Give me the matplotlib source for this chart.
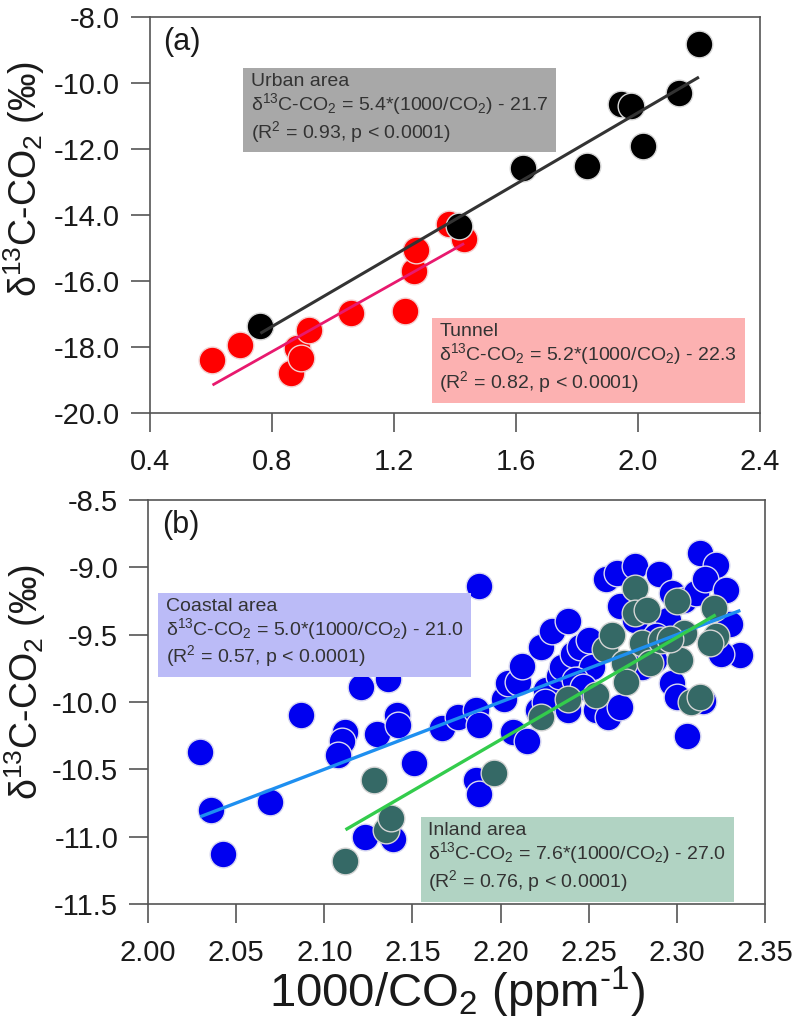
import matplotlib
matplotlib.use('Agg')
import numpy as np
import matplotlib.pyplot as plt
from matplotlib.ticker import FormatStrFormatter

plt.rcParams['font.family'] = ['Liberation Sans', 'DejaVu Sans']
plt.rcParams['mathtext.default'] = 'regular'
plt.rcParams['axes.unicode_minus'] = False

# ---- panel (a): urban area vs tunnel ----
urban_x = [2.20, 2.135, 1.943, 1.977, 2.018, 1.834, 1.622, 1.412, 0.762]
urban_y = [-8.81, -10.30, -10.64, -10.71, -11.92, -12.51, -12.56, -14.32, -17.36]
tunnel_x = [0.605, 0.694, 0.862, 0.883, 0.894, 0.920, 1.058, 1.236, 1.266, 1.273, 1.382, 1.430]
tunnel_y = [-18.40, -17.94, -18.80, -18.04, -18.34, -17.48, -16.98, -16.92, -15.71, -15.07, -14.26, -14.72]

# ---- panel (b): coastal vs inland ----
coastal_x = [2.0296, 2.0358, 2.0424, 2.069, 2.087, 2.112, 2.110, 2.108, 2.121, 2.136,
             2.130, 2.141, 2.142, 2.151, 2.123, 2.139, 2.188, 2.167, 2.176, 2.186,
             2.188, 2.186, 2.188, 2.202, 2.204, 2.210, 2.212, 2.207, 2.215, 2.223,
             2.229, 2.238, 2.226, 2.233, 2.235, 2.221, 2.225, 2.238, 2.241, 2.245,
             2.250, 2.252, 2.254, 2.261, 2.268, 2.242, 2.247, 2.260, 2.266, 2.276,
             2.290, 2.268, 2.276, 2.297, 2.304, 2.313, 2.322, 2.311, 2.316, 2.328,
             2.330, 2.336, 2.325, 2.306, 2.297, 2.300, 2.315, 2.280, 2.287, 2.295,
             2.288]
coastal_y = [-10.37, -10.80, -11.13, -10.74, -10.10, -10.22, -10.29, -10.39, -9.89, -9.83,
             -10.24, -10.10, -10.17, -10.45, -11.00, -11.02, -9.14, -10.19, -10.11, -10.06,
             -10.17, -10.58, -10.68, -9.98, -9.86, -9.85, -9.73, -10.22, -10.29, -9.59,
             -9.47, -9.40, -9.91, -9.81, -9.74, -10.06, -10.00, -10.06, -9.64, -9.59,
             -9.54, -9.74, -10.06, -10.11, -10.04, -9.84, -9.89, -9.09, -9.04, -8.99,
             -9.05, -9.29, -9.39, -9.19, -9.24, -8.89, -8.98, -9.19, -9.09, -9.17,
             -9.42, -9.65, -9.64, -10.25, -9.86, -9.96, -9.99, -9.74, -9.69, -9.39,
             -9.51]
inland_x = [2.112, 2.128, 2.135, 2.138, 2.196, 2.223, 2.238, 2.254, 2.259, 2.263,
            2.270, 2.271, 2.276, 2.276, 2.283, 2.280, 2.285, 2.291, 2.300, 2.302,
            2.304, 2.308, 2.313, 2.321, 2.322, 2.319, 2.296]
inland_y = [-11.18, -10.58, -10.95, -10.86, -10.53, -10.11, -9.98, -9.95, -9.61, -9.50,
            -9.71, -9.85, -9.15, -9.34, -9.32, -9.56, -9.71, -9.54, -9.25, -9.69,
            -9.49, -10.00, -9.96, -9.30, -9.51, -9.56, -9.53]

# regression coefficients (slope, intercept) as printed on the chart
urban_fit = (5.4, -21.7)
tunnel_fit = (5.2, -22.3)
coastal_fit = (5.0, -21.0)
inland_fit = (7.6, -27.0)

urban_text = 'Urban area\nδ$^{13}$C-CO$_2$ = 5.4*(1000/CO$_2$) - 21.7\n(R$^2$ = 0.93, p < 0.0001)'
tunnel_text = 'Tunnel\nδ$^{13}$C-CO$_2$ = 5.2*(1000/CO$_2$) - 22.3\n(R$^2$ = 0.82, p < 0.0001)'
coastal_text = 'Coastal area\nδ$^{13}$C-CO$_2$ = 5.0*(1000/CO$_2$) - 21.0\n(R$^2$ = 0.57, p < 0.0001)'
inland_text = 'Inland area\nδ$^{13}$C-CO$_2$ = 7.6*(1000/CO$_2$) - 27.0\n(R$^2$ = 0.76, p < 0.0001)'

ylabel = 'δ$^{13}$C-CO$_2$ (‰)'
xlabel = '1000/CO$_2$ (ppm$^{‐1}$)'

frame = '#555555'
txt = '#333333'


def style(ax):
    for s in ax.spines.values():
        s.set_color(frame)
        s.set_linewidth(1.2)
    ax.tick_params(direction='out', length=13.5, width=1.2, color=frame,
                   labelsize=21, labelcolor='#1a1a1a')
    ax.tick_params(axis='x', pad=12)
    ax.tick_params(axis='y', pad=8)


def fit_line(ax, xs, fit, color, lw):
    xx = np.array([min(xs), max(xs)])
    ax.plot(xx, fit[0] * xx + fit[1], color=color, lw=lw, zorder=4,
            solid_capstyle='butt')


def note(ax, x, y, s, fc):
    ax.text(x, y, s, fontsize=14, color=txt, ha='left', va='top',
            linespacing=1.08, zorder=5,
            bbox=dict(boxstyle='square,pad=0.4', fc=fc, ec='none'))


fig = plt.figure(figsize=(7.96, 10.21), dpi=100)

# ---- panel (a) ----
ax1 = fig.add_axes([0.1884, 0.5955, 0.7663, 0.3878])
ax1.scatter(tunnel_x, tunnel_y, s=370, color='#ff0000', edgecolors='#f3d0d0',
            linewidths=1.0, zorder=2)
ax1.scatter(urban_x, urban_y, s=370, color='#000000', edgecolors='#d8d8d8',
            linewidths=1.0, zorder=3)
fit_line(ax1, urban_x, urban_fit, '#333333', 2.2)
fit_line(ax1, tunnel_x, tunnel_fit, '#e8196e', 2.0)
ax1.set_xlim(0.4, 2.4)
ax1.set_ylim(-20, -8)
ax1.set_xticks(np.arange(0.4, 2.41, 0.4))
ax1.set_yticks(np.arange(-20, -7.9, 2))
ax1.xaxis.set_major_formatter(FormatStrFormatter('%.1f'))
ax1.yaxis.set_major_formatter(FormatStrFormatter('%.1f'))
style(ax1)
ax1.set_ylabel(ylabel, fontsize=27, color='#1a1a1a')
ax1.yaxis.set_label_coords(-0.168, 0.59)
ax1.text(0.022, 0.975, '(a)', transform=ax1.transAxes, fontsize=22,
         ha='left', va='top', color='#1a1a1a')
note(ax1, 0.731, -9.69, urban_text, '#a8a8a8')
note(ax1, 1.349, -17.27, tunnel_text, '#fcb1b1')

# ---- panel (b) ----
ax2 = fig.add_axes([0.186, 0.1146, 0.7751, 0.3957])
ax2.scatter(coastal_x, coastal_y, s=370, color='#0000f0', edgecolors='#d8d8f0',
            linewidths=1.0, zorder=2)
ax2.scatter(inland_x, inland_y, s=370, color='#356966', edgecolors='#d5d5d5',
            linewidths=1.0, zorder=3)
fit_line(ax2, coastal_x, coastal_fit, '#1e8ff0', 2.4)
fit_line(ax2, inland_x, inland_fit, '#33cc4c', 2.4)
ax2.set_xlim(2.0, 2.35)
ax2.set_ylim(-11.5, -8.5)
ax2.set_xticks(np.arange(2.0, 2.351, 0.05))
ax2.set_yticks(np.arange(-11.5, -8.49, 0.5))
ax2.xaxis.set_major_formatter(FormatStrFormatter('%.2f'))
ax2.yaxis.set_major_formatter(FormatStrFormatter('%.1f'))
style(ax2)
ax2.set_ylabel(ylabel, fontsize=27, color='#1a1a1a')
ax2.yaxis.set_label_coords(-0.162, 0.55)
ax2.set_xlabel(xlabel, fontsize=34, color='#1a1a1a', labelpad=-2)
ax2.text(0.022, 0.975, '(b)', transform=ax2.transAxes, fontsize=22,
         ha='left', va='top', color='#1a1a1a')
note(ax2, 2.010, -9.225, coastal_text, '#bbbbf7')
note(ax2, 2.159, -10.891, inland_text, '#b1d3c3')

fig.savefig('out.png', dpi=100)
